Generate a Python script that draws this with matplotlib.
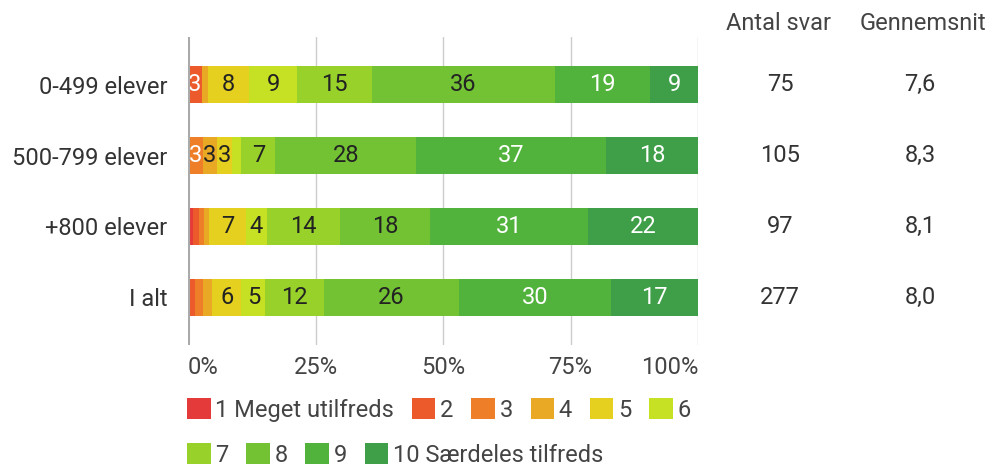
import matplotlib
matplotlib.use("Agg")
import matplotlib.pyplot as plt
from matplotlib.patches import Patch
from matplotlib.transforms import blended_transform_factory, ScaledTranslation

plt.rcParams['font.family'] = ['Roboto', 'DejaVu Sans']

# number of answers per score (1..10) for each group
groups = ["0-499 elever", "500-799 elever", "+800 elever", "I alt"]
counts_0_499 = [0, 2, 0, 1, 6, 7, 11, 27, 14, 7]
counts_500_799 = [0, 0, 3, 3, 3, 2, 7, 29, 39, 19]
counts_800 = [1, 1, 1, 1, 7, 4, 14, 17, 30, 21]
counts_total = [1, 3, 4, 5, 16, 13, 32, 73, 83, 47]
all_counts = [counts_0_499, counts_500_799, counts_800, counts_total]

score_labels = ["1 Meget utilfreds", "2", "3", "4", "5", "6",
                "7", "8", "9", "10 Særdeles tilfreds"]
colors = ["#E53A3A", "#EC5A2B", "#EE7E27", "#EAA925", "#E5D020",
          "#C6E024", "#99D12B", "#72C234", "#52B33C", "#3F9E48"]
white_text = [True, True, True, False, False, False, False, False, True, True]
ticks = [0, 25, 50, 75, 100]

fig = plt.figure(figsize=(9.97, 4.68), dpi=100)
ax = fig.add_axes([188 / 997, 1 - 345 / 468, 510 / 997, 308 / 468])

fs = 17
for row, counts in enumerate(all_counts):
    n = sum(counts)
    left = 0.0
    for k, c in enumerate(counts):
        pct = 100.0 * c / n
        if pct > 0:
            ax.barh(row, pct, left=left, height=0.51, color=colors[k], zorder=3)
            if pct >= 2.5:
                ax.text(left + pct / 2, row, str(int(pct + 0.5)), ha='center', va='center',
                        fontsize=fs, color='white' if white_text[k] else '#222222', zorder=4)
        left += pct

ax.set_xlim(0, 100)
ax.set_ylim(3.67, -0.67)
ax.set_yticks(range(len(groups)))
ax.set_yticklabels(groups, fontsize=fs, color='#333333')
ax.set_xticks(ticks)
ax.set_xticklabels([f"{t}%" for t in ticks], fontsize=fs, color='#444444')
xt = ax.get_xticklabels()
xt[0].set_ha('left')
xt[-1].set_ha('right')
xt[-1].set_transform(xt[-1].get_transform() + ScaledTranslation(4 / 72, 0, fig.dpi_scale_trans))
ax.tick_params(axis='both', length=0)
ax.tick_params(axis='y', pad=15)
ax.tick_params(axis='x', pad=8)
for t in ticks[1:]:
    ax.axvline(t, color='#cccccc', lw=1, zorder=1)
ax.axvline(0, color='#aaaaaa', lw=2.2, zorder=5)
for s in ax.spines.values():
    s.set_visible(False)

# right-hand columns
tr = blended_transform_factory(fig.transFigure, ax.transData)
fig.text(778 / 997, 1 - 24 / 468, "Antal svar", ha='center', va='center', fontsize=fs, color='#444444')
fig.text(923 / 997, 1 - 24 / 468, "Gennemsnit", ha='center', va='center', fontsize=fs, color='#444444')
for row, counts in enumerate(all_counts):
    n = sum(counts)
    avg = sum((k + 1) * c for k, c in enumerate(counts)) / n
    ax.text(780 / 997, row, str(n), transform=tr, ha='center', va='center', fontsize=fs, color='#333333')
    ax.text(920 / 997, row, f"{avg:.1f}".replace('.', ','), transform=tr, ha='center', va='center',
            fontsize=fs, color='#333333')

# legend in two rows
handles = [Patch(facecolor=c, edgecolor='none') for c in colors]
leg_kw = dict(frameon=False, fontsize=fs, handlelength=1.0, handleheight=1.0,
              handletextpad=0.2, columnspacing=0.75, borderpad=0, borderaxespad=0,
              labelcolor='#444444')
fig.legend(handles[:6], score_labels[:6], ncol=6, loc='center left',
           bbox_to_anchor=(187 / 997, 1 - 410 / 468), **leg_kw)
fig.legend(handles[6:], score_labels[6:], ncol=4, loc='center left',
           bbox_to_anchor=(187 / 997, 1 - 455 / 468), **leg_kw)

fig.savefig("out.png", dpi=100)
